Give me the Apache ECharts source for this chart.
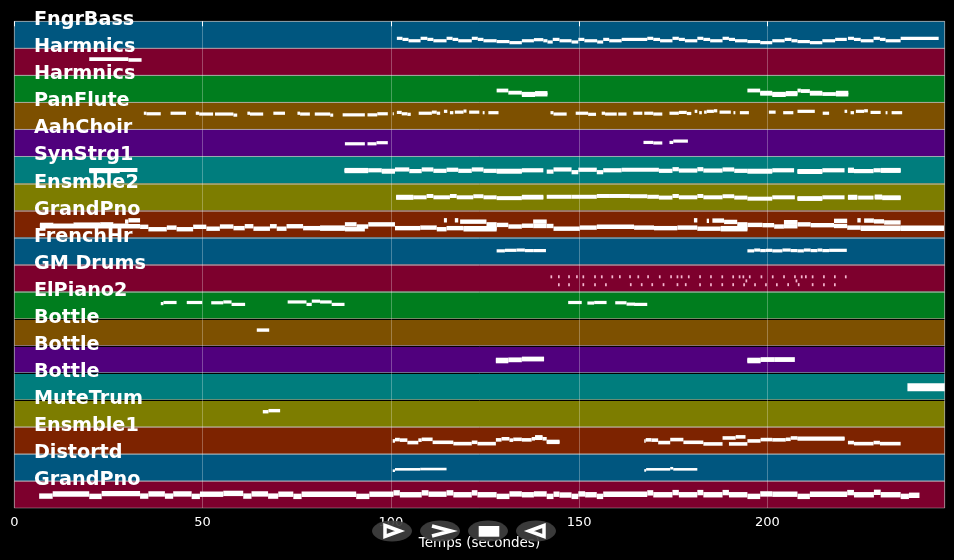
<!DOCTYPE html>
<html>
<head>
<meta charset="utf-8">
<title>Piano roll</title>
<style>
html,body{margin:0;padding:0;background:#000;}
#chart{width:954px;height:560px;}
</style>
<script src="https://cdn.jsdelivr.net/npm/echarts@6/dist/echarts.min.js"></script>
</head>
<body>
<div id="chart"></div>
<script>
var trackNames = ['FngrBass','Harmnics','Harmnics','PanFlute','AahChoir','SynStrg1','Ensmble2','GrandPno','FrenchHr','GM Drums','ElPiano2','Bottle','Bottle','Bottle','MuteTrum','Ensmble1','Distortd','GrandPno'];
var xTicks = [0,50,100,150,200];
var maxTime = 247.1;

// each note: [start (s), end (s), pitch inside its track, 0 = bottom, 1 = top]
var notes0 = [[101.6,103.1,.37],[103.1,104.7,.33],[104.7,107.9,.28],[107.9,109.7,.37],[109.7,111.3,.33],[111.3,114.8,.28],[114.8,116.4,.37],[116.4,117.9,.33],[117.9,121.5,.28],[121.5,123.1,.37],[123.1,124.6,.33],[124.6,128.1,.28],[128.1,131.5,.25],[131.5,134.8,.21],[134.8,138,.28],[138,140.5,.32],[140.5,141.6,.28],[141.6,143,.235],[143,144.8,.33],[144.8,148,.28],[148,149.8,.235],[149.8,151.4,.33],[151.4,154.8,.28],[154.8,156.4,.235],[156.4,158,.33],[158,161.3,.28],[161.3,168.1,.33],[168.1,169.7,.37],[169.7,171.5,.33],[171.5,174.8,.28],[174.8,176.5,.37],[176.5,178.1,.33],[178.1,181.4,.28],[181.4,183,.37],[183,184.8,.33],[184.8,188.1,.28],[188.1,189.8,.37],[189.8,191.4,.33],[191.4,194.7,.28],[194.7,198.1,.25],[198.1,201.3,.21],[201.3,204.6,.28],[204.6,206.4,.33],[206.4,208,.28],[208,211.3,.25],[211.3,214.6,.21],[214.6,218,.28],[218,221.1,.33],[221.4,223,.37],[223,224.8,.33],[224.8,228.2,.28],[228.2,229.9,.37],[229.9,231.4,.33],[231.4,235.4,.28],[235.4,245.5,.37]];
var notes1 = [[19.9,30.3,.6],[30.3,33.8,.57]];
var notes2 = [[128.1,131.2,.44],[131.2,134.8,.36],[134.8,138.3,.32],[134.8,138.3,.27],[138.3,141.6,.35],[138.3,141.6,.29],[194.7,198.1,.44],[198.1,201.3,.36],[198.1,201.3,.32],[201.3,204.9,.32],[201.3,204.9,.27],[204.9,208,.35],[204.9,208,.3],[208,208.9,.44],[208.9,211.3,.42],[211.3,214.6,.36],[211.3,214.6,.32],[214.6,218.2,.31],[218.2,221.5,.36],[218.2,221.5,.29]];
var notes3 = [[34.4,35.1,.6],[35.1,38.9,.58],[41.5,45.6,.6],[48.2,49.1,.6],[49.1,52.8,.57],[53.3,58.2,.57],[58.2,59.2,.53],[61.9,62.6,.6],[62.6,66.1,.57],[68.8,71.9,.6],[75.2,75.9,.6],[75.9,78.5,.57],[79.8,83.9,.57],[83.9,84.7,.53],[87.2,93.1,.54],[93.8,96.4,.54],[96.4,99.2,.58],[100.5,100.8,.58],[101.6,102.9,.63],[102.9,104.4,.58],[104.4,105.3,.56],[107.4,110.9,.6],[110.9,112.2,.64],[112.2,113.1,.6],[114.1,115,.67],[115.7,116.6,.62],[117,119.3,.64],[119.3,120.1,.68],[120.8,123.5,.64],[124.4,124.9,.62],[125.9,128.6,.62],[142.4,143.2,.62],[143.2,146.7,.57],[149.1,152.4,.6],[152.4,154.5,.56],[156,156.9,.6],[156.9,160,.57],[160.4,162.6,.57],[164.4,166.8,.6],[167.3,169.7,.6],[169.7,172.1,.57],[174,176.5,.6],[176.5,178.6,.63],[178.6,179.8,.59],[180.7,181.4,.67],[181.9,182.6,.62],[183.2,183.9,.64],[183.9,185.8,.67],[185.8,186.7,.69],[187.3,190.3,.64],[191,191.5,.62],[192.7,195.1,.62],[200.4,202.2,.64],[204.2,206.9,.62],[208,212.6,.67],[214.7,216.4,.6],[220.5,221.2,.67],[222.1,223,.62],[223.5,225.7,.67],[225.7,226.7,.69],[227.4,230.1,.63],[231.4,231.9,.62],[233,235.8,.62]];
var notes4 = [[87.8,93.1,.47],[93.8,96.2,.47],[96.2,99.2,.51],[167.1,169.7,.52],[169.7,172.1,.5],[174,175,.52],[175,178.9,.57]];
var notes5 = [[19.9,32.7,.5],[19.9,28,.46],[87.7,94,.46],[87.7,94,.5],[94,97.6,.49],[97.6,101.1,.44],[97.6,101.1,.47],[101.1,104.9,.52],[104.9,108.2,.46],[108.2,111.3,.52],[111.3,114.8,.47],[114.8,117.9,.51],[117.9,121.5,.47],[121.5,124.6,.52],[124.6,128.1,.47],[128.1,134.8,.44],[128.1,134.8,.47],[134.8,140.5,.49],[141.4,143.2,.44],[143.2,148,.52],[148,149.8,.42],[149.8,154.7,.51],[154.7,156.4,.42],[156.4,161.3,.49],[161.3,171.2,.51],[171.2,174.8,.47],[174.8,176.5,.53],[176.5,181.4,.48],[181.4,183,.53],[183,188.1,.48],[188.1,191.2,.52],[191.2,194.7,.47],[194.7,201.3,.44],[194.7,201.3,.47],[201.3,207.1,.49],[208,214.6,.46],[208,214.6,.43],[214.6,220.5,.49],[221.4,223,.51],[221.4,223,.47],[223,228.2,.46],[228.2,230.1,.49],[230.1,235.4,.47],[230.1,235.4,.5]];
var notes6 = [[101.4,106,.51],[101.4,106,.47],[106,109.5,.49],[109.5,111.3,.54],[111.3,115.7,.49],[115.7,117.5,.54],[117.5,121.9,.49],[121.9,124.6,.53],[124.6,128.1,.49],[128.1,134.8,.46],[134.8,140.5,.51],[134.8,140.5,.48],[141.4,148,.51],[148,154.7,.51],[154.7,158.2,.54],[158.2,163.5,.54],[163.5,168.1,.53],[168.1,171.2,.51],[171.2,174.8,.48],[174.8,176.5,.54],[176.5,181.4,.49],[181.4,183,.54],[183,188.1,.49],[188.1,191.2,.53],[191.2,194.7,.48],[194.7,201.3,.44],[201.3,207.3,.49],[208,214.6,.46],[208,214.6,.43],[214.6,220.5,.49],[221.4,223.9,.51],[221.4,223.9,.47],[224.1,228.2,.48],[228.5,230.5,.52],[228.5,230.5,.48],[230.5,235.4,.49],[230.5,235.4,.46]];
var notes7 = [[6.8,10.4,.47],[10.4,15.7,.44],[15.7,22.8,.48],[22.8,26.3,.49],[26.3,29.4,.44],[29.4,30.3,.59],[30.3,33.4,.64],[6.8,33.4,.42],[33.4,35.6,.4],[35.6,40.5,.31],[40.5,43.1,.37],[43.1,47.5,.31],[47.5,51,.4],[51,54.6,.33],[54.6,58.2,.41],[58.2,61.2,.35],[61.2,63.5,.42],[63.5,67.9,.33],[67.9,69.7,.42],[69.7,72.3,.33],[72.3,76.7,.42],[76.7,81.2,.35],[81.2,87.8,.37],[81.2,87.8,.33],[87.8,90.9,.49],[87.8,93.1,.31],[90.9,94,.41],[94,101.1,.49],[101.1,107.8,.35],[107.8,112.2,.37],[112.2,114.8,.31],[114.8,119.3,.35],[119.3,128.1,.31],[119.3,128.1,.35],[114.1,114.9,.64],[117,117.9,.64],[118.4,125.4,.59],[125.4,128.1,.49],[128.1,131.2,.47],[131.2,134.8,.41],[134.8,137.8,.44],[137.8,141.4,.59],[137.8,141.4,.43],[141.4,143.2,.43],[143.2,150.2,.33],[150.2,154.7,.37],[154.7,164.6,.4],[164.6,169.9,.37],[169.9,176.1,.35],[176.1,181.4,.37],[181.4,187.6,.33],[187.6,194.7,.35],[187.6,194.7,.31],[180.5,181.4,.64],[183.9,184.5,.62],[185.4,188.5,.63],[188.5,192,.58],[192,194.7,.49],[194.7,198.7,.47],[198.7,201.8,.46],[201.8,204.4,.41],[204.4,208,.57],[204.4,208,.42],[208,211.5,.49],[211.5,217.7,.46],[217.7,221.2,.62],[217.7,221.2,.43],[221.2,224.8,.37],[223.9,224.8,.64],[225.7,228.3,.63],[228.3,231,.6],[231,235.4,.56],[224.8,235.4,.33],[224.8,235.4,.37],[235.4,246.9,.37],[235.4,246.9,.33]];
var notes8 = [[128.1,130.3,.51],[130.3,133.4,.53],[133.4,135.6,.54],[135.6,137.8,.52],[137.8,141.2,.52],[194.7,196.5,.51],[196.5,198.1,.54],[198.1,199.6,.52],[199.6,201.3,.53],[201.3,204,.51],[204,206.2,.54],[206.2,208,.52],[208,209.7,.51],[209.7,211.5,.54],[211.5,213.3,.52],[213.3,214.6,.54],[214.6,216.4,.52],[216.4,221.1,.53]];
var drumHigh = [142.4,144.4,147.1,149.2,150.9,154,155.8,158.6,160.6,163.3,165.5,168.1,171.2,174.2,175.9,177,178.9,181.9,184.8,187.8,190.7,192.4,193.4,195.1,198.2,201.2,204.2,207.1,208.9,210,211.8,214.8,217.7,220.6];
var drumMid = [194.2,207.5];
var drumLow = [144.4,147.1,150.9,154,156.9,163.5,166.4,169.2,172.2,175.9,178.1,181.9,184.8,187.8,190.7,193.6,196.5,199.4,202.3,205.3,208.1,211.8,214.8,217.7];
var notes10 = [[38.9,39.6,.56],[39.6,43.1,.6],[45.8,49.9,.6],[52.3,55.5,.59],[55.5,57.7,.62],[57.7,61.3,.53],[72.6,77.6,.62],[77.6,79,.53],[79,81.2,.65],[81.2,84.3,.62],[84.3,87.7,.53],[147.1,150.7,.6],[152.2,154,.58],[154,157.3,.6],[159.6,162.6,.59],[162.6,164.8,.54],[164.6,168.1,.53]];
var notes11 = [[64.4,67.7,.58]];
var notes12 = [[127.9,131.2,.47],[127.9,131.2,.44],[131.2,134.8,.48],[134.8,140.7,.51],[194.7,198.2,.47],[194.7,198.2,.44],[198.2,201.8,.49],[201.8,207.3,.49]];
var notes13 = [[237.2,247.1,.47]];
var notes14 = [[66,67.5,.56],[67.5,70.6,.6]];
var notes15 = [[100.5,101.1,.48],[101.1,102.4,.53],[102.4,104.4,.51],[104.4,107.3,.42],[107.3,108.2,.51],[108.2,111.1,.54],[111.1,116.6,.43],[116.6,121.5,.38],[121.5,123,.43],[123,127.9,.38],[127.9,129.4,.52],[129.4,131.5,.56],[131.5,132.5,.51],[132.5,134.8,.54],[134.8,137.4,.52],[137.4,138.3,.56],[138.3,140.3,.63],[138.3,140.3,.58],[140.3,141.4,.56],[141.4,144.8,.46],[141.4,144.8,.43],[167.3,167.7,.48],[167.7,169.2,.52],[169.2,171,.51],[171,174.2,.42],[174.2,177.7,.53],[177.7,183,.43],[183,188.1,.37],[188.1,191.6,.59],[191.6,194.2,.63],[189.8,194.7,.37],[194.7,198.2,.48],[198.2,201.3,.53],[201.3,204.9,.52],[204.9,206.2,.54],[206.2,208,.59],[208,220.5,.58],[208,220.5,.55],[221.4,223,.42],[223,228.2,.38],[228.2,229.9,.42],[229.9,235.4,.38]];
var notes16 = [[100.5,101.1,.38],[101.1,107.8,.43],[107.8,114.8,.44],[167.3,167.8,.39],[167.8,174.2,.43],[174.2,175,.47],[175,181.4,.43]];
var notes17 = [[6.6,10.2,.44],[10.2,19.9,.52],[19.9,23.2,.43],[23.2,33.4,.53],[33.4,35.6,.44],[35.6,40,.52],[40,42.2,.44],[42.2,47.1,.52],[47.1,49.3,.43],[49.3,55.5,.51],[55.5,60.8,.54],[60.8,63,.44],[63,67.4,.52],[67.4,70.1,.44],[70.1,74.1,.51],[74.1,76.3,.43],[76.3,90.8,.51],[90.8,94.3,.43],[94.3,100.7,.51],[100.7,102.4,.56],[102.4,108.2,.49],[108.2,110,.56],[110,114.8,.51],[114.8,116.6,.56],[116.6,121.5,.49],[121.5,123,.56],[123,128.1,.49],[128.1,131.5,.43],[131.5,134.8,.52],[134.8,138,.49],[138,141.4,.52],[141.4,143.2,.43],[143.2,144.8,.51],[144.8,148,.48],[148,149.8,.43],[149.8,151.6,.52],[151.6,154.7,.49],[154.7,156.4,.43],[156.4,168.1,.51],[168.1,169.7,.56],[169.7,174.8,.49],[174.8,176.5,.57],[176.5,181.4,.49],[181.4,183,.57],[183,188.1,.49],[188.1,189.8,.57],[189.8,194.7,.49],[194.7,198.1,.43],[198.1,201.3,.52],[201.3,208,.51],[208,211.3,.43],[211.3,221.2,.51],[221.2,223,.57],[223,228.3,.49],[228.3,230.1,.58],[230.1,235.4,.49],[235.4,237.6,.43],[237.6,240.4,.47]];

// drum hits are very short, the same length each
var drumLength = 0.45;
function drumNotes(times, pitch) {
    var list = [];
    for (var i = 0; i < times.length; i++) {
        list.push([times[i], times[i] + drumLength, pitch]);
    }
    return list;
}
var notes9 = drumNotes(drumHigh, .55).concat(drumNotes(drumMid, .4), drumNotes(drumLow, .26));
var trackNotes = [notes0,notes1,notes2,notes3,notes4,notes5,notes6,notes7,notes8,notes9,notes10,notes11,notes12,notes13,notes14,notes15,notes16,notes17];

// looks
var bandColors = ['#00567f','#7d002d','#007d1e','#7d5000','#50007d','#007d7d','#7d7d00','#7d2300'];
var noteHeights = [3.2,3.6,3.8,3.2,3.2,4.2,4,4.4,3.2,3,3.2,3.4,4.8,8,3.4,3.6,2.6,5.4];
var darkTopEdge = {11:1,12:1,13:1,14:1};
var textFont = '"DejaVu Sans", sans-serif';

var bandData = [], noteData = [];
for (var k = 0; k < trackNames.length; k++) {
    bandData.push([k, trackNames[k]]);
    for (var n = 0; n < trackNotes[k].length; n++) {
        var nt = trackNotes[k][n];
        noteData.push([nt[0], nt[1], k + 1 - nt[2], k]);
    }
}

function renderBand(params, api) {
    var k = api.value(0);
    var p0 = api.coord([0, k]);
    var p1 = api.coord([maxTime, k + 1]);
    return {
        type: 'group',
        children: [{
            type: 'rect',
            shape: {x: p0[0], y: p0[1], width: p1[0] - p0[0], height: p1[1] - p0[1]},
            style: {fill: bandColors[k % bandColors.length], stroke: 'rgba(200,200,200,.4)', lineWidth: 1}
        }, {
            type: 'line',
            shape: {x1: p0[0], y1: Math.round(p0[1]) + .5, x2: p1[0], y2: Math.round(p0[1]) + .5},
            style: {stroke: darkTopEdge[k] ? '#000' : 'rgba(200,200,200,.5)', lineWidth: 1}
        }]
    };
}

function renderNote(params, api) {
    var p0 = api.coord([api.value(0), api.value(2)]);
    var p1 = api.coord([api.value(1), api.value(2)]);
    var h = noteHeights[api.value(3)];
    return {
        type: 'rect',
        shape: {x: p0[0], y: p0[1] - h / 2, width: p1[0] - p0[0], height: h},
        style: {fill: api.value(3) == 9 ? '#f7b6d0' : '#fff'}
    };
}

function renderName(params, api) {
    var p = api.coord([5.2, api.value(0)]);
    return {
        type: 'text',
        x: p[0],
        y: p[1] - 1,
        style: {
            text: trackNames[api.value(0)],
            fill: '#fff',
            font: 'bold 19.2px ' + textFont,
            textAlign: 'left',
            textVerticalAlign: 'middle'
        }
    };
}

// the player buttons that sit on top of the picture
function buttonShape(cx) {
    return {type: 'ellipse', shape: {cx: cx, cy: 531, rx: 20, ry: 10.5}, style: {fill: 'rgba(62,62,62,.93)'}};
}
var iconLine = {stroke: '#fff', lineWidth: 3.5, fill: 'none', lineJoin: 'miter'};
var buttons = [
    buttonShape(392), buttonShape(440), buttonShape(488), buttonShape(536),
    {type: 'polygon', shape: {points: [[385, 525.5], [400, 531], [385, 536.5]]}, style: iconLine},
    {type: 'polyline', shape: {points: [[432, 526], [451, 531], [432, 536]]}, style: iconLine},
    {type: 'rect', shape: {x: 478.7, y: 526, width: 20.6, height: 10.7}, style: {fill: '#fff'}},
    {type: 'polygon', shape: {points: [[544, 525.5], [529, 531], [544, 536.5]]}, style: iconLine}
];
for (var b = 0; b < buttons.length; b++) {
    buttons[b].z = 100;
}

var myChart = echarts.init(document.getElementById('chart'));
myChart.setOption({
    backgroundColor: '#000',
    animation: false,
    grid: {left: 14.3, right: 9.3, top: 21.3, bottom: 52},
    xAxis: {
        type: 'value',
        min: 0,
        max: maxTime,
        interval: xTicks[1] - xTicks[0],
        z: 3,
        name: 'Temps (secondes)',
        nameLocation: 'middle',
        nameGap: 28,
        nameTextStyle: {color: '#fff', fontSize: 13.5, fontFamily: textFont},
        axisLine: {show: false},
        axisTick: {show: true, length: 5, lineStyle: {color: '#fff', width: 1}},
        axisLabel: {color: '#fff', fontSize: 13, fontFamily: textFont, margin: 8, showMaxLabel: false},
        splitLine: {show: true, lineStyle: {color: 'rgba(255,255,255,.28)', width: 1}}
    },
    yAxis: {
        type: 'value',
        min: 0,
        max: trackNames.length,
        inverse: true,
        show: false
    },
    series: [
        {type: 'custom', z: 1, data: bandData, renderItem: renderBand, encode: {x: -1, y: 0}, silent: true},
        {type: 'custom', z: 10, data: noteData, renderItem: renderNote, encode: {x: [0, 1], y: 2}, silent: true},
        {type: 'custom', z: 11, data: bandData, renderItem: renderName, encode: {x: -1, y: 0}, silent: true, clip: false}
    ],
    graphic: buttons
});
window.onresize = function () {
    myChart.resize();
};
</script>
</body>
</html>
